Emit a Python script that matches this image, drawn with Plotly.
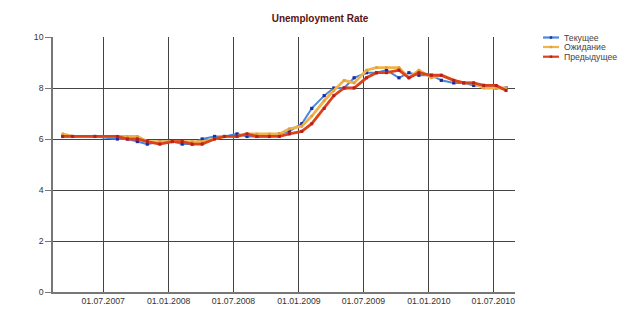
import plotly.graph_objects as go

# ---- data (release dates and values) ----
dates = [
    "2007-03-09", "2007-04-06", "2007-06-08", "2007-08-10", "2007-09-07", "2007-10-05", "2007-11-02", "2007-12-07",
    "2008-01-11", "2008-02-08", "2008-03-07", "2008-04-04", "2008-05-09", "2008-06-06", "2008-07-11", "2008-08-08",
    "2008-09-05", "2008-10-10", "2008-11-07", "2008-12-05",
    "2009-01-09", "2009-02-06", "2009-03-13", "2009-04-09", "2009-05-08", "2009-06-05", "2009-07-10", "2009-08-07",
    "2009-09-04", "2009-10-09", "2009-11-06", "2009-12-04",
    "2010-01-08", "2010-02-05", "2010-03-12", "2010-04-09", "2010-05-07", "2010-06-04", "2010-07-09", "2010-08-06",
]
actual = [6.1, 6.1, 6.1, 6.0, 6.0, 5.9, 5.8, 5.9,
          5.9, 5.8, 5.8, 6.0, 6.1, 6.1, 6.2, 6.1, 6.1, 6.1, 6.2, 6.3,
          6.6, 7.2, 7.7, 8.0, 8.0, 8.4, 8.6, 8.6, 8.7, 8.4, 8.6, 8.5,
          8.5, 8.3, 8.2, 8.2, 8.1, 8.1, 8.0, 8.0]
forecast = [6.2, 6.1, 6.1, 6.1, 6.1, 6.1, 5.9, 5.9,
            5.9, 5.9, 5.9, 5.9, 6.0, 6.1, 6.1, 6.2, 6.2, 6.2, 6.2, 6.4,
            6.5, 6.9, 7.5, 7.9, 8.3, 8.2, 8.7, 8.8, 8.8, 8.8, 8.4, 8.7,
            8.4, 8.5, 8.3, 8.2, 8.2, 8.0, 8.0, 8.0]
previous = [6.1, 6.1, 6.1, 6.1, 6.0, 6.0, 5.9, 5.8,
            5.9, 5.9, 5.8, 5.8, 6.0, 6.1, 6.1, 6.2, 6.1, 6.1, 6.1, 6.2,
            6.3, 6.6, 7.2, 7.7, 8.0, 8.0, 8.4, 8.6, 8.6, 8.7, 8.4, 8.6,
            8.5, 8.5, 8.3, 8.2, 8.2, 8.1, 8.1, 7.9]

series_names = ["Текущее", "Ожидание", "Предыдущее"]
title_text = "Unemployment Rate"

# ---- styles ----
W, H = 640, 322
ML, MR, MT, MB = 53, 125, 37, 30
line_colors = ["#4A88DC", "#F2B24A", "#D9431C"]
marker_colors = ["#1C2CA6", "#E3A03A", "#B81E1E"]
line_widths = [2, 2.8, 2.8]
marker_sizes = [3.2, 2.6, 3]
FONT = "Liberation Sans, Arial, sans-serif"

fig = go.Figure()
for name, ys, lc, mc, lw, ms in zip(series_names, [actual, forecast, previous],
                                    line_colors, marker_colors, line_widths, marker_sizes):
    fig.add_trace(go.Scatter(
        x=dates, y=ys, name=name, mode="lines+markers",
        line=dict(color=lc, width=lw),
        marker=dict(color=mc, size=ms, symbol="square"),
        showlegend=False,
    ))

# ---- custom compact legend (pixel -> paper helpers) ----
pw = W - ML - MR
ph = H - MT - MB


def px_x(p):
    return (p - ML) / pw


def px_y(p):
    return (H - MB - p) / ph


legend_rows = [37.5, 47, 56.7]
shapes = []
annotations = []
for name, lc, mc, ry in zip(series_names, line_colors, marker_colors, legend_rows):
    shapes.append(dict(type="line", xref="paper", yref="paper",
                       x0=px_x(543), x1=px_x(559), y0=px_y(ry), y1=px_y(ry),
                       line=dict(color=lc, width=2.2)))
    shapes.append(dict(type="rect", xref="paper", yref="paper",
                       x0=px_x(549.8), x1=px_x(552.2), y0=px_y(ry + 1.2), y1=px_y(ry - 1.2),
                       line=dict(width=0), fillcolor=mc))
    annotations.append(dict(text=name, xref="paper", yref="paper",
                            x=px_x(561.5), y=px_y(ry), xanchor="left", yanchor="middle",
                            showarrow=False, font=dict(family=FONT, size=8.7, color="#444")))

fig.update_layout(
    width=W, height=H,
    margin=dict(l=ML, r=MR, t=MT, b=MB),
    paper_bgcolor="white", plot_bgcolor="white",
    font=dict(family=FONT, size=8.7, color="#333"),
    title=dict(text="<b>" + title_text + "</b>", x=0.5, xref="container", xanchor="center",
               y=1 - 18 / H, yanchor="middle", yref="container",
               font=dict(family=FONT, size=10, color="#5A1212")),
    shapes=shapes, annotations=annotations,
    showlegend=False,
)
fig.update_xaxes(
    type="date", range=["2007-02-10", "2010-08-31"],
    tick0="2007-07-01", dtick="M6", tickformat="%d.%m.%Y",
    showgrid=True, gridcolor="#444", gridwidth=1,
    showline=True, linecolor="#777", linewidth=1.5,
    ticks="", zeroline=False,
    tickfont=dict(family=FONT, size=8.7, color="#333"),
)
fig.update_yaxes(
    range=[0, 10], dtick=2, tick0=0,
    showgrid=True, gridcolor="#444", gridwidth=1,
    showline=True, linecolor="#777", linewidth=1.5,
    ticks="outside", ticklen=6, tickcolor="#777",
    zeroline=False,
    tickfont=dict(family=FONT, size=8.7, color="#333"),
)

fig.write_html("out.html", config={"displayModeBar": False},
               post_script="document.body.style.margin='0px';")
